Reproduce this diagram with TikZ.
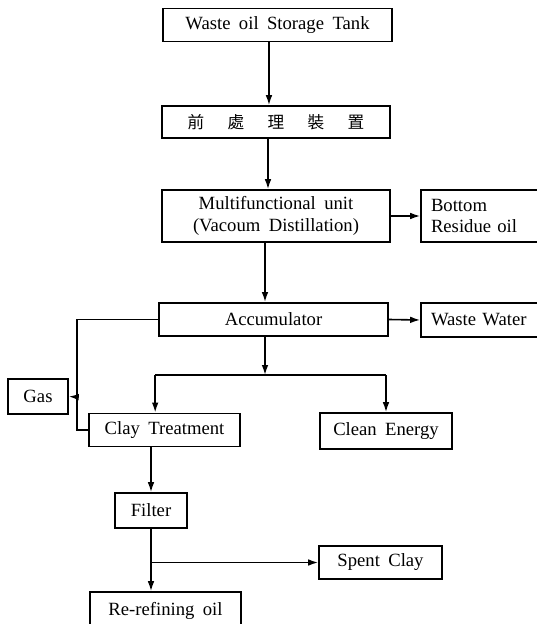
\documentclass[tikz,border=0pt]{standalone}
\usepackage{fontspec}
\setmainfont{Liberation Serif}
\newfontfamily\cjk{Noto Sans CJK TC}
\usetikzlibrary{arrows.meta, positioning}
\newcommand\widespace{\spaceskip=0.45em\relax}

\begin{document}
\begin{tikzpicture}[x=0.75pt, y=-0.75pt,
        font=\fontsize{14}{16}\selectfont\widespace,
        box/.style={draw, line width=1.2pt, inner sep=0pt, minimum height=25pt},
        side/.style={box, align=left, text width=78pt, inner xsep=7.5pt},
        arr/.style={line width=1.2pt, -{Latex[length=7.5pt, width=5pt]}}]
                \useasboundingbox (0,0) rectangle (536,624);

                \node[box, minimum width=171.75pt] (tank) at (277.5,25) {Waste oil Storage Tank};
                \node[box, minimum width=171pt, minimum height=24pt] (pre) at (276,122)
                    {\cjk\fontsize{12.5}{14}\selectfont 前\hspace{17.5pt}處\hspace{17.5pt}理\hspace{17.5pt}裝\hspace{17.5pt}置};
                \node[box, minimum width=171pt, minimum height=39pt, align=center] (mfu) at (276,216)
                    {Multifunctional unit\\(Vacoum Distillation)};
                \node[side, minimum height=39pt] (bro) at (483,216) {Bottom\\Residue oil};
                \node[box, minimum width=171.75pt] (acc) at (273.5,319.5) {Accumulator};
                \node[side, minimum height=25.5pt] (ww) at (483,320) {Waste Water};
                \node[box, minimum width=45pt, minimum height=26.25pt] (gas) at (38,396.5) {Gas};
                \node[box, minimum width=113.25pt] (clay) at (164.5,430) {Clay Treatment};
                \node[box, minimum width=99pt, minimum height=27pt] (ce) at (386,431) {Clean Energy};
                \node[box, minimum width=54pt, minimum height=26.25pt] (fil) at (151,510.5) {Filter};
                \node[box, minimum width=92.25pt, minimum height=24.75pt] (sc) at (380.5,562.5) {Spent Clay};
                \node[box, minimum width=113.25pt, minimum height=28.5pt] (ro) at (165.5,611) {Re-refining oil};

                \coordinate (split) at (265,375);
                \coordinate (gj) at (77,397);

                \draw[arr] ([xshift=-6.4pt]tank.south) -- ([xshift=-6.4pt]tank.south |- pre.north);
                \draw[arr] ([xshift=-6pt]pre.south) -- ([xshift=-6pt]pre.south |- mfu.north);
                \draw[arr] (mfu.east) -- (bro.west);
                \draw[arr] (mfu.south -| split) -- (acc.north -| split);
                \draw[arr] (acc.east) -- (ww.west);
                \draw[arr] (acc.south -| split) -- (split);
                \draw[line width=1.2pt] ([xshift=-7pt]clay.north |- split) -- (ce.north |- split);
                \draw[arr] ([xshift=-7pt]clay.north |- split) -- ([xshift=-7pt]clay.north);
                \draw[arr] (ce.north |- split) -- (ce.north);
                \draw[line width=1.2pt] (acc.west) -| (gj) |- (clay.west);
                \draw[arr] (gj) -- (gas.east);
                \draw[arr] (clay.south -| fil) -- (fil.north);
                \draw[arr] (fil.south) -- (ro.north -| fil.south);
                \draw[arr] (fil.south |- sc.west) -- (sc.west);
\end{tikzpicture}
\end{document}
